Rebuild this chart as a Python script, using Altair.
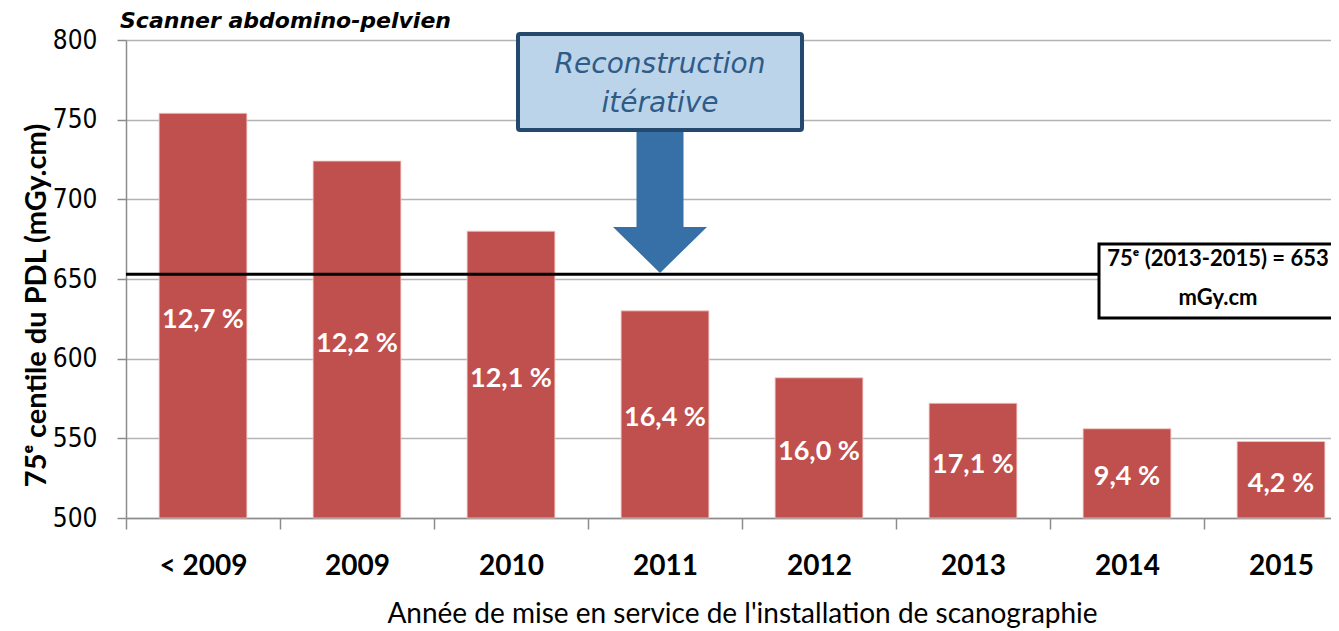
import altair as alt
import pandas as pd

# ---- data ----
CATEGORIES = ["< 2009", "2009", "2010", "2011", "2012", "2013", "2014", "2015"]
VALUES = [754, 724, 680, 630, 588, 572, 556, 548]
PCT_LABELS = ["12,7 %", "12,2 %", "12,1 %", "16,4 %", "16,0 %", "17,1 %", "9,4 %", "4,2 %"]
REF_VALUE = [653]
REF_LABEL = "75ᵉ (2013-2015) = 653\nmGy.cm"
ARROW_LABEL = "Reconstruction\nitérative"
Y_GRID = [500, 525, 550, 575, 600, 625, 650, 675, 700, 725, 750, 775, 800]
Y_MIN, Y_MAX = 500, 800
TITLE = "Scanner abdomino-pelvien"
Y_TITLE = "75ᵉ centile du PDL (mGy.cm)"
X_TITLE = "Année de mise en service de l'installation de scanographie"

df = pd.DataFrame({"cat": CATEGORIES, "value": VALUES, "pct": PCT_LABELS})

W, H = 1205, 478
BAR_COLOR = "#c0504d"
GRID = "#b4b4b4"
AXIS_GREY = "#8c8c8c"
LABEL_FONT = "Lato"
TICK_FONT = "DejaVu Sans Condensed, Lato, sans-serif"

x_scale = alt.Scale(domain=CATEGORIES, range=[0, 1232], paddingInner=0, paddingOuter=0)
y_scale = alt.Scale(domain=[Y_MIN, Y_MAX], nice=False, zero=False)

x_enc = alt.X(
    "cat:N",
    scale=x_scale,
    sort=CATEGORIES,
    axis=alt.Axis(
        title=X_TITLE,
        labelAngle=0,
        tickBand="extent",
        tickSize=11,
        tickColor=AXIS_GREY,
        tickWidth=1.5,
        domainColor=AXIS_GREY,
        domainWidth=1.5,
        labelFont=LABEL_FONT,
        labelFontWeight="bold",
        labelFontSize=28,
        labelColor="#000000",
        labelPadding=23,
        titleFont=LABEL_FONT,
        titleFontSize=28,
        titleFontWeight="normal",
        titleColor="#000000",
        titlePadding=20,
        grid=False,
    ),
)

y_axis = alt.Axis(
    title=Y_TITLE,
    values=Y_GRID,
    labelExpr="datum.value % 50 === 0 ? datum.label : ''",
    tickOpacity={"condition": {"test": "datum.value % 50 === 0", "value": 1}, "value": 0},
    tickSize=9,
    tickColor=AXIS_GREY,
    tickWidth=1.5,
    domainColor=AXIS_GREY,
    domainWidth=1.5,
    grid=True,
    gridColor=GRID,
    gridWidth=1.5,
    labelFont=TICK_FONT,
    labelFontSize=26,
    labelColor="#000000",
    labelPadding=20,
    titleFont=LABEL_FONT,
    titleFontSize=29,
    titleFontWeight="bold",
    titleColor="#000000",
    titlePadding=1,
    titleY=265,
)

base = alt.Chart(df)

bars = base.mark_bar(color=BAR_COLOR, width=alt.RelativeBandSize(0.57), stroke="#f2c6c5", strokeWidth=0.8).encode(
    x=x_enc,
    y=alt.Y("value:Q", scale=y_scale, axis=y_axis),
    y2=alt.datum(Y_MIN),
)

pct_text = base.transform_calculate(mid=f"(datum.value + {Y_MIN}) / 2").mark_text(
    color="white", font=LABEL_FONT, fontWeight="bold", fontSize=27, baseline="middle", dy=4
).encode(
    x=alt.X("cat:N", scale=x_scale, sort=CATEGORIES),
    y=alt.Y("mid:Q", scale=y_scale),
    text="pct:N",
)

ref_df = pd.DataFrame({"ref": REF_VALUE})
ref_line = alt.Chart(ref_df).mark_rule(color="#000000", strokeWidth=3).encode(
    y=alt.Y("ref:Q", scale=y_scale)
)

# reference-value callout box (annotation)
ref_box = alt.Chart(ref_df).mark_rect(fill="white", stroke="#000000", strokeWidth=3).encode(
    x=alt.value(973), x2=alt.value(1230), y=alt.value(204), y2=alt.value(278)
)
ref_text = alt.Chart(pd.DataFrame({"t": [REF_LABEL]})).mark_text(
    font=LABEL_FONT, fontWeight="bold", fontSize=22, color="#000000", baseline="middle", align="center",
    lineBreak="\n", lineHeight=39,
).encode(x=alt.value(1092), y=alt.value(219), text="t:N")

# "Reconstruction itérative" box and arrow (annotation)
arrow_box = alt.Chart(ref_df).mark_rect(fill="#bcd4ea", stroke="#24496f", strokeWidth=4, cornerRadius=2).encode(
    x=alt.value(392), x2=alt.value(676), y=alt.value(-6), y2=alt.value(90)
)
arrow_text = alt.Chart(pd.DataFrame({"t": [ARROW_LABEL]})).mark_text(
    font="DejaVu Sans", fontStyle="italic", fontSize=28, color="#2f5b87", baseline="middle", align="center",
    lineBreak="\n", lineHeight=39,
).encode(x=alt.value(534), y=alt.value(25), text="t:N")

ARROW_PATH = "M -0.5 -1.51 L 0.5 -1.51 L 0.5 0.53 L 1 0.53 L 0 1.51 L -1 0.53 L -0.5 0.53 Z"
arrow = alt.Chart(ref_df).mark_point(
    shape=ARROW_PATH, filled=True, fill="#3670a6", stroke="#3670a6", strokeWidth=0, opacity=1, size=94 * 94
).encode(x=alt.value(534), y=alt.value(162))

title = alt.Chart(pd.DataFrame({"t": [TITLE]})).mark_text(
    font="DejaVu Sans", fontStyle="italic", fontWeight="bold", fontSize=22, color="#000000",
    align="left", baseline="middle",
).encode(x=alt.value(-6), y=alt.value(-19), text="t:N")

chart = alt.layer(
    bars, pct_text, ref_line, ref_box, ref_text, arrow, arrow_box, arrow_text, title
).properties(
    width=W,
    height=H,
    autosize=alt.AutoSizeParams(type="none"),
    padding={"left": 118, "top": 32, "right": 0, "bottom": 113},
).configure_view(stroke=None).configure(background="white")

chart.save("out.html", embed_options={"renderer": "svg", "actions": False})
